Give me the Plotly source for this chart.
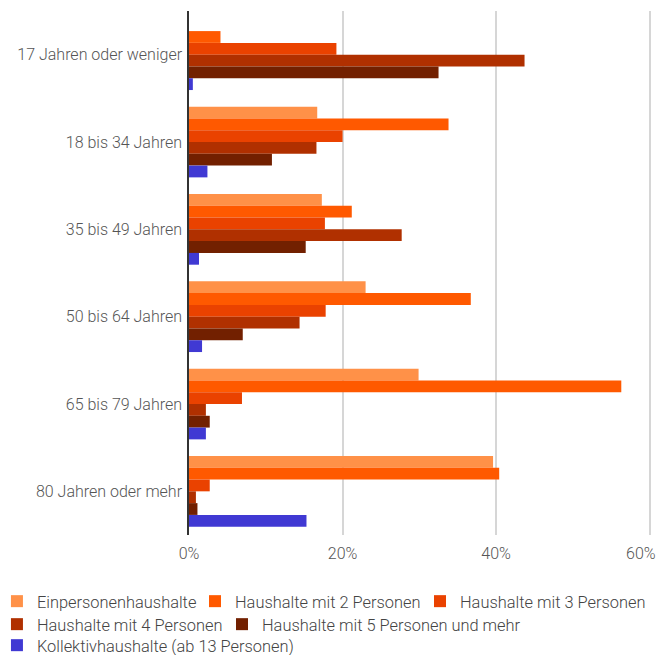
import plotly.graph_objects as go

categories = [
    "17 Jahren oder weniger",
    "18 bis 34 Jahren",
    "35 bis 49 Jahren",
    "50 bis 64 Jahren",
    "65 bis 79 Jahren",
    "80 Jahren oder mehr",
]

series_names = [
    "Einpersonenhaushalte",
    "Haushalte mit 2 Personen",
    "Haushalte mit 3 Personen",
    "Haushalte mit 4 Personen",
    "Haushalte mit 5 Personen und mehr",
    "Kollektivhaushalte (ab 13 Personen)",
]

einpersonen = [0.0, 16.7, 17.3, 23.0, 29.9, 39.6]
zwei_personen = [4.1, 33.8, 21.2, 36.7, 56.3, 40.4]
drei_personen = [19.2, 20.0, 17.7, 17.8, 6.9, 2.7]
vier_personen = [43.7, 16.6, 27.7, 14.4, 2.2, 0.9]
fuenf_personen = [32.5, 10.8, 15.2, 7.0, 2.7, 1.1]
kollektiv = [0.5, 2.4, 1.3, 1.7, 2.2, 15.3]

x_ticks = [0, 20, 40, 60]
x_tick_labels = ["0%", "20%", "40%", "60%"]

colors = ["#ff9148", "#ff5900", "#ea4200", "#b03000", "#722000", "#4039d3"]
values = [einpersonen, zwei_personen, drei_personen, vier_personen, fuenf_personen, kollektiv]

# one legend per entry so the entries flow like the original (3 + 2 + 1 per row)
legend_ids = ["legend", "legend2", "legend3", "legend4", "legend5", "legend6"]
legend_x = [-0.4148, 0.0130, 0.4989, -0.4148, 0.0713, -0.4148]
legend_y = [-0.0935, -0.0935, -0.0935, -0.1374, -0.1374, -0.1775]

fig = go.Figure()
for name, vals, color, lg in zip(series_names, values, colors, legend_ids):
    fig.add_trace(
        go.Bar(
            y=categories,
            x=vals,
            name=name,
            orientation="h",
            legend=lg,
            marker=dict(color=color, line=dict(width=0)),
        )
    )

legend_style = dict(
    orientation="h",
    xanchor="left",
    yanchor="top",
    font=dict(family="Roboto", size=16.4, color="#444444", weight=300),
    itemwidth=30,
    bgcolor="rgba(0,0,0,0)",
)
legends = {
    lg: dict(legend_style, x=lx, y=ly)
    for lg, lx, ly in zip(legend_ids, legend_x, legend_y)
}

fig.update_layout(
    width=659,
    height=655,
    barmode="group",
    bargap=0.19,
    bargroupgap=0,
    plot_bgcolor="white",
    paper_bgcolor="white",
    font=dict(family="Roboto", size=16, color="#555555", weight=300),
    margin=dict(l=189, r=7, t=11, b=120, autoexpand=False),
    showlegend=True,
    **legends,
)

# the last tick label sits right-aligned at the page edge, like the original
tick_text_axis = [t if v != x_ticks[-1] else "" for v, t in zip(x_ticks, x_tick_labels)]
fig.add_annotation(
    x=x_ticks[-1],
    xref="x",
    y=0,
    yref="paper",
    text=x_tick_labels[-1],
    showarrow=False,
    xanchor="right",
    yanchor="middle",
    xshift=8,
    yshift=-18,
    font=dict(family="Roboto", size=16, color="#555555", weight=300),
)

fig.update_xaxes(
    range=[0, 60.3],
    tickvals=x_ticks,
    ticktext=tick_text_axis,
    showgrid=True,
    gridcolor="#d6d6d6",
    gridwidth=1.5,
    zeroline=False,
    showline=False,
    ticks="",
    ticklabelstandoff=7,
    ticklabeloverflow="allow",
    automargin=False,
)

fig.update_yaxes(
    autorange="reversed",
    showline=True,
    linecolor="#333333",
    linewidth=1.5,
    ticks="",
    ticklabelstandoff=2,
    automargin=False,
)

fig.write_html(
    "out.html",
    config={"displayModeBar": False},
    post_script="document.body.style.margin = '0';",
)
